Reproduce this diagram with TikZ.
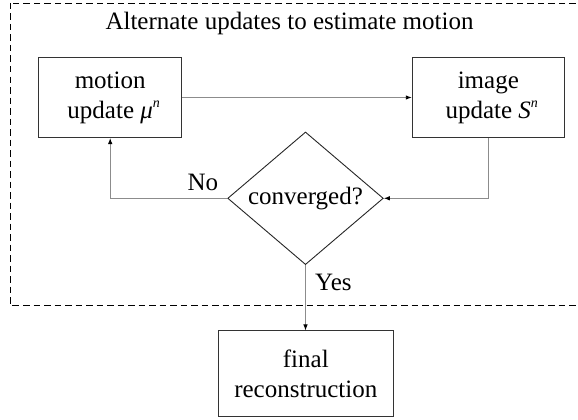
\documentclass[tikz,border=0pt]{standalone}
\usepackage{fontspec}
\setmainfont{Liberation Serif}
\usetikzlibrary{shapes.geometric,arrows.meta}
\newcommand{\supn}{\raisebox{0.42em}{\fontsize{14}{14}\selectfont\itshape n}}
\begin{document}
\begin{tikzpicture}[x=1pt,y=-1pt,
  txt/.style={font=\fontsize{25}{30}\selectfont},
  box/.style={txt,draw=black!80,line width=1pt,align=center,inner sep=0pt},
  conn/.style={draw=black!45,line width=0.9pt,-{Latex[length=6pt,width=4.5pt,color=black]}},
  lbl/.style={txt,inner sep=0pt,anchor=base west}]
\useasboundingbox (0,0) rectangle (578,420);
\begin{scope}
\clip (0,0) rectangle (578,420);
\draw[line width=0.9pt,dash pattern=on 6.5pt off 4pt] (10,3) rectangle (584,305);
\end{scope}
\node[txt,inner sep=0pt,anchor=base] (title) at (289.5,30) {Alternate updates to estimate motion};
\node[box,minimum width=143pt,minimum height=80pt] (mot) at (110.2,97.5) {motion\\ \;update {\itshape μ}\supn};
\node[box,minimum width=152pt,minimum height=80pt] (img) at (488.3,97.5) {image\\ \;update {\itshape S}\supn};
\node[txt,draw=black!85,line width=0.9pt,diamond,aspect=1.17,inner sep=0pt,minimum width=155.6pt,minimum height=132.6pt] (conv) at (305.5,198.3) {converged?};
\node[box,minimum width=175pt,minimum height=85.7pt] (fin) at (305.8,373.8) {final\\ reconstruction};
\draw[conn] (mot.east) -- (img.west);
\draw[conn] (img.south) |- (conv.east);
\draw[conn] (conv.west) -| (mot.south);
\draw[conn] (conv.south) -- (fin.north -| conv.south);
\node[lbl] (no) at (187.3,190.7) {No};
\node[lbl] (yes) at (315,290) {Yes};
\end{tikzpicture}
\end{document}
